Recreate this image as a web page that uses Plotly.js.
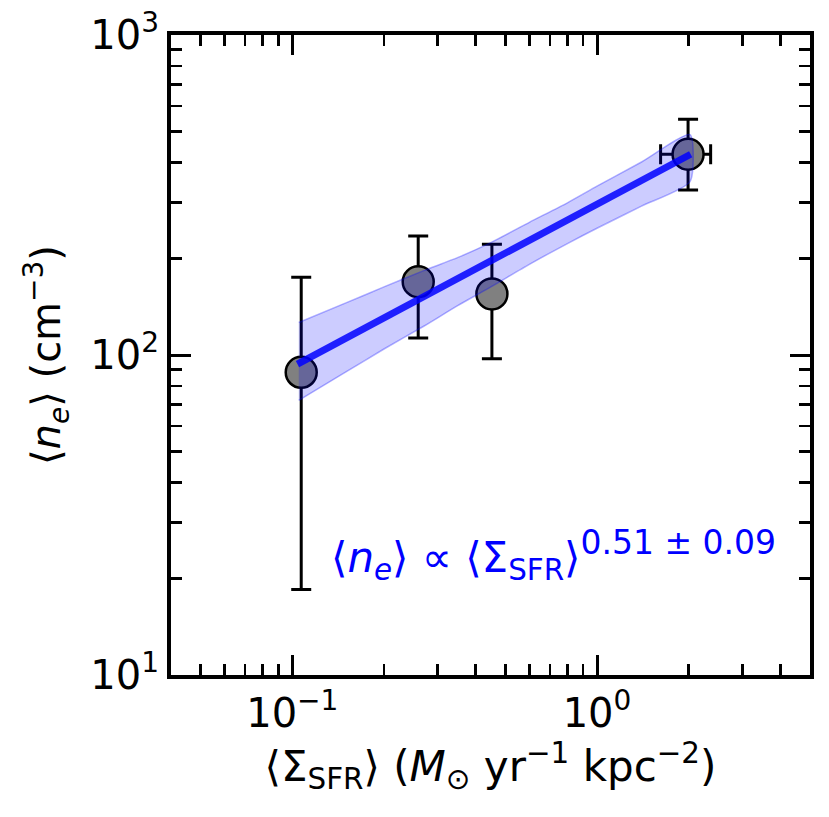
<!DOCTYPE html>
<html>
<head>
<meta charset="utf-8">
<script src="https://cdn.plot.ly/plotly-3.0.1.min.js"></script>
<style>html,body{margin:0;padding:0;background:#fff;}#chart{width:829px;height:817px;}</style>
</head>
<body>
<div id="chart"></div>
<script>
// ---- data ----
var sigmaSFR = [0.107, 0.259, 0.452, 1.99];
var neMean   = [88.3, 169.4, 155.2, 424];
var neHigh   = [175, 235.5, 222, 545];
var neLow    = [18.5, 113, 97.3, 328];
var sigmaLow  = [NaN, NaN, NaN, 1.617];
var sigmaHigh = [NaN, NaN, NaN, 2.36];

var fitX = [0.104, 2.03];
var fitY = [93.7, 424];

var bandX  = [0.105, 0.15, 0.2, 0.27, 0.35, 0.45, 0.6, 0.8, 1.0, 1.4, 2.02];
var bandHi = [126.4, 145.5, 163.2, 183.5, 201.8, 225.0, 259.8, 299.0, 336.9, 401.0, 488.5];
var bandLo = [72.1, 88.5, 104.4, 123.0, 142.9, 163.5, 192.0, 223.0, 249.0, 292.0, 348.3];

var xTickVals = [0.1, 1];
var xTickText = ['10<sup>\u22121</sup>', '10<sup>0</sup>'];
var yTickVals = [10, 100, 1000];
var yTickText = ['10<sup>1</sup>', '10<sup>2</sup>', '10<sup>3</sup>'];
var xMinorVals = [0.04,0.05,0.06,0.07,0.08,0.09,0.2,0.3,0.4,0.5,0.6,0.7,0.8,0.9,2,3,4];
var yMinorVals = [20,30,40,50,60,70,80,90,200,300,400,500,600,700,800,900];

var fitLabel = '\u27e8<i>n<sub>e</sub></i>\u27e9 \u221d \u27e8\u03a3<sub>SFR</sub>\u27e9<sup><span style="font-size:33px">0.51 \u00b1 0.09</span></sup>';
var xTitle = '\u27e8\u03a3<sub>SFR</sub>\u27e9 (<i>M</i><sub>\u2299</sub> yr<sup>\u22121</sup> kpc<sup>\u22122</sup>)';
var yTitle = '\u27e8<i>n<sub>e</sub></i>\u27e9 (cm<sup>\u22123</sup>)';

// ---- derived ----
var errYplus = neHigh.map(function(v,i){return v - neMean[i];});
var errYminus = neLow.map(function(v,i){return neMean[i] - v;});
var errXplus = sigmaHigh.map(function(v,i){return v - sigmaSFR[i];});
var errXminus = sigmaLow.map(function(v,i){return sigmaSFR[i] - v;});

var polyX = bandX.concat(bandX.slice().reverse());
var polyY = bandHi.concat(bandLo.slice().reverse());

var FONT = 'DejaVu Sans, Liberation Sans, sans-serif';

var traces = [
  {
    x: sigmaSFR, y: neMean, type: 'scatter', mode: 'markers',
    marker: {size: 31, color: '#808080', line: {color: '#000', width: 2.5}},
    error_y: {type: 'data', symmetric: false, array: errYplus, arrayminus: errYminus,
              color: '#000', thickness: 3, width: 10},
    error_x: {type: 'data', symmetric: false, array: errXplus, arrayminus: errXminus,
              color: '#000', thickness: 3, width: 10},
    showlegend: false, hoverinfo: 'skip'
  },
  {
    x: polyX, y: polyY, type: 'scatter', mode: 'lines', fill: 'toself',
    fillcolor: 'rgba(0,0,255,0.2)', line: {color: 'rgba(0,0,255,0.3)', width: 1.5, shape: 'spline', smoothing: 0.6},
    showlegend: false, hoverinfo: 'skip'
  },
  {
    x: fitX, y: fitY, type: 'scatter', mode: 'lines',
    line: {color: 'rgba(0,0,255,0.85)', width: 7},
    showlegend: false, hoverinfo: 'skip'
  }
];

var axCommon = {
  type: 'log', showgrid: false, zeroline: false,
  showline: true, linecolor: '#000', linewidth: 4, mirror: 'allticks',
  ticks: 'inside', ticklen: 20, tickwidth: 3, tickcolor: '#000',
  tickmode: 'array', tickfont: {family: FONT, size: 40, color: '#000'}
};

var layout = {
  width: 829, height: 817,
  margin: {l: 171, r: 19, t: 35, b: 142},
  paper_bgcolor: '#fff', plot_bgcolor: '#fff',
  font: {family: FONT, color: '#000'},
  xaxis: Object.assign({}, axCommon, {
    range: [Math.log10(0.04), Math.log10(5)],
    tickvals: xTickVals, ticktext: xTickText,
    minor: {tickmode: 'array', tickvals: xMinorVals, ticks: 'inside', ticklen: 11, tickwidth: 2.5, tickcolor: '#000', showgrid: false},
    title: {text: xTitle, font: {family: FONT, size: 42, color: '#000'}, standoff: 9}
  }),
  yaxis: Object.assign({}, axCommon, {
    range: [1, 3],
    tickvals: yTickVals, ticktext: yTickText,
    minor: {tickmode: 'array', tickvals: yMinorVals, ticks: 'inside', ticklen: 11, tickwidth: 2.5, tickcolor: '#000', showgrid: false},
    title: {text: yTitle, font: {family: FONT, size: 40, color: '#000'}, standoff: 18}
  }),
  annotations: [{
    xref: 'x', yref: 'y', x: Math.log10(0.132), y: Math.log10(23.7),
    xanchor: 'left', yanchor: 'middle', showarrow: false,
    text: fitLabel, font: {family: FONT, size: 42, color: '#0000ff'}
  }]
};

Plotly.newPlot('chart', traces, layout, {displayModeBar: false, staticPlot: true});
</script>
</body>
</html>
